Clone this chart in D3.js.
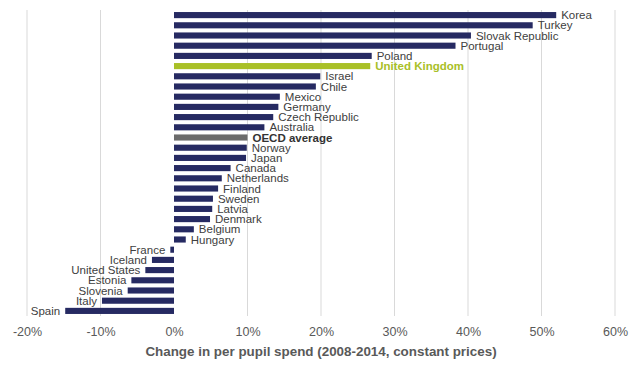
<!DOCTYPE html>
<html>
<head>
<meta charset="utf-8">
<script src="https://cdn.jsdelivr.net/npm/d3@7"></script>
<style>
  body { margin: 0; background: #fff; }
  text { font-family: "Liberation Sans", Arial, sans-serif; }
</style>
</head>
<body>
<div id="chart"></div>
<script>
// data
var countries = ["Korea", "Turkey", "Slovak Republic", "Portugal", "Poland", "United Kingdom",
  "Israel", "Chile", "Mexico", "Germany", "Czech Republic", "Australia", "OECD average",
  "Norway", "Japan", "Canada", "Netherlands", "Finland", "Sweden", "Latvia", "Denmark",
  "Belgium", "Hungary", "France", "Iceland", "United States", "Estonia", "Slovenia", "Italy", "Spain"];
var change = [52.0, 48.8, 40.4, 38.3, 26.9, 26.7,
  19.9, 19.3, 14.4, 14.2, 13.5, 12.3, 10.0,
  9.9, 9.8, 7.7, 6.5, 6.0, 5.3, 5.2, 4.9,
  2.7, 1.6, -0.5, -3.0, -3.9, -5.8, -6.3, -9.8, -14.8];
var tickValues = [-20, -10, 0, 10, 20, 30, 40, 50, 60];
var xTitle = "Change in per pupil spend (2008-2014, constant prices)";

var svgWidth = 640;
var svgHeight = 370;

var data = countries.map(function(c, i) { return { name: c, value: change[i] }; });

var svg = d3.select("#chart")
  .append("svg")
  .attr("width", svgWidth)
  .attr("height", svgHeight);

var xScale = d3.scaleLinear()
  .domain([-20, 60])
  .range([27, 615]);

var yScale = d3.scaleBand()
  .domain(countries)
  .range([10, 316])
  .paddingInner(0.4)
  .paddingOuter(0.2);

function barColor(d) {
  if (d.name === "United Kingdom") return "#a9c027";
  if (d.name === "OECD average") return "#6b6b6b";
  return "#262a62";
}

function labelColor(d) {
  if (d.name === "United Kingdom") return "#a9c027";
  if (d.name === "OECD average") return "#333333";
  return "#404040";
}

// gridlines
svg.append("g")
  .selectAll("line")
  .data(tickValues.filter(function(t) { return t !== 0; }))
  .enter()
  .append("line")
  .attr("x1", d => xScale(d))
  .attr("x2", d => xScale(d))
  .attr("y1", 10)
  .attr("y2", 316)
  .attr("stroke", "#d9d9d9")
  .attr("stroke-width", 1);

// bottom axis, labels only
var bottomAxis = d3.axisBottom(xScale)
  .tickValues(tickValues)
  .tickSize(0)
  .tickPadding(0)
  .tickFormat(d => d + "%");

var axisG = svg.append("g")
  .attr("transform", "translate(0, 327)")
  .call(bottomAxis);
axisG.select(".domain").remove();
axisG.selectAll("text")
  .attr("fill", "#595959")
  .attr("font-size", "12.5px")
  .attr("font-family", "Liberation Sans, Arial, sans-serif");

// bars
svg.append("g")
  .selectAll("rect")
  .data(data)
  .enter()
  .append("rect")
  .attr("x", d => xScale(Math.min(0, d.value)))
  .attr("y", d => yScale(d.name))
  .attr("width", d => Math.abs(xScale(d.value) - xScale(0)))
  .attr("height", yScale.bandwidth())
  .attr("fill", barColor);

// country labels
svg.append("g")
  .selectAll("text")
  .data(data)
  .enter()
  .append("text")
  .text(d => d.name)
  .attr("x", d => d.value >= 0 ? xScale(d.value) + 5 : xScale(d.value) - 5)
  .attr("y", d => yScale(d.name) + yScale.bandwidth() / 2)
  .attr("dy", "0.36em")
  .attr("text-anchor", d => d.value >= 0 ? "start" : "end")
  .attr("font-size", "11.5px")
  .attr("font-weight", d => (d.name === "United Kingdom" || d.name === "OECD average") ? "bold" : "normal")
  .attr("fill", labelColor);

// axis title
svg.append("text")
  .attr("x", (xScale(-20) + xScale(60)) / 2)
  .attr("y", 356)
  .attr("text-anchor", "middle")
  .attr("font-size", "13.4px")
  .attr("font-weight", "bold")
  .attr("fill", "#595959")
  .text(xTitle);
</script>
</body>
</html>
